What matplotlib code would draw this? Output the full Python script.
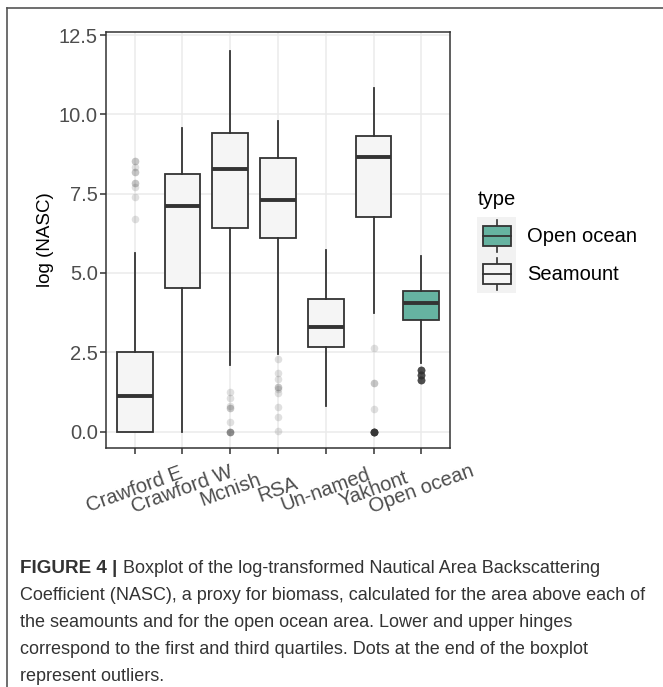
import matplotlib
matplotlib.use("Agg")
import matplotlib.pyplot as plt
from matplotlib.patches import Rectangle
from matplotlib.lines import Line2D

plt.rcParams['font.family'] = ['Liberation Sans', 'DejaVu Sans']

# log(NASC) summary per site
sites = ["Crawford E", "Crawford W", "Mcnish", "RSA", "Un-named", "Yakhont", "Open ocean"]
site_type = ["Seamount", "Seamount", "Seamount", "Seamount", "Seamount", "Seamount", "Open ocean"]
q1 = [0.00, 4.53, 6.43, 6.09, 2.68, 6.77, 3.51]
median = [1.11, 7.10, 8.29, 7.31, 3.29, 8.66, 4.04]
q3 = [2.50, 8.11, 9.43, 8.62, 4.18, 9.31, 4.42]
whisker_lo = [0.00, 0.00, 2.10, 2.45, 0.82, 3.73, 2.15]
whisker_hi = [5.62, 9.56, 12.01, 9.80, 5.74, 10.82, 5.53]
outliers = [
    [8.52, 8.52, 8.34, 8.20, 8.20, 7.85, 7.85, 7.70, 7.40, 6.70],
    [],
    [1.26, 1.05, 0.81, 0.74, 0.74, 0.31] + [0.00] * 5,
    [2.29, 1.84, 1.65, 1.39, 1.39, 1.33, 1.21, 0.76, 0.47, 0.02],
    [],
    [2.64, 1.52, 1.52, 0.70] + [0.00] * 20,
    [1.94] * 12 + [1.78] * 12 + [1.63] * 12,
]

fills = {"Open ocean": "#66b3a1", "Seamount": "#f5f5f5"}
line_col = "#333333"
fs = 14.5

fig = plt.figure(figsize=(6.63, 6.87), dpi=100)
ax = fig.add_axes([106 / 663, 1 - 448 / 687, (450 - 106) / 663, (448 - 32) / 687])

positions = list(range(1, len(sites) + 1))
stats = []
for i in range(len(sites)):
    stats.append(dict(med=median[i], q1=q1[i], q3=q3[i], whislo=whisker_lo[i],
                      whishi=whisker_hi[i], fliers=[]))

bp = ax.bxp(stats, positions=positions, widths=0.75, patch_artist=True,
            showcaps=False, showfliers=False,
            boxprops=dict(edgecolor=line_col, linewidth=1.3),
            whiskerprops=dict(color=line_col, linewidth=1.3),
            medianprops=dict(color=line_col, linewidth=2.8, solid_capstyle='butt'),
            zorder=3)
for patch, t in zip(bp['boxes'], site_type):
    patch.set_facecolor(fills[t])

# semi-transparent outliers, overlapping points darken
for pos, pts in zip(positions, outliers):
    if pts:
        ax.scatter([pos] * len(pts), pts, s=30, color=line_col, alpha=0.15,
                   linewidths=0, zorder=4)

ax.set_xlim(0.4, 7.6)
ax.set_ylim(-0.52, 12.6)
ax.set_yticks([0, 2.5, 5, 7.5, 10, 12.5])
ax.set_yticklabels(["0.0", "2.5", "5.0", "7.5", "10.0", "12.5"])
ax.set_xticks(positions)
ax.set_xticklabels(sites, rotation=20, ha='center', va='center',
                   rotation_mode='anchor')
ax.tick_params(axis='both', colors=line_col, length=4, width=1.1,
               labelsize=fs, labelcolor="#4d4d4d")
ax.tick_params(axis='x', pad=26)
ax.tick_params(axis='y', pad=2)
ax.grid(True, color="#ebebeb", linewidth=1.1, zorder=0)
ax.set_axisbelow(True)
for s in ax.spines.values():
    s.set_color(line_col)
    s.set_linewidth(1.1)
ax.set_ylabel("log (NASC)", fontsize=13.5, color="black", labelpad=3)

# legend drawn as small key panels
fig.text(478 / 663, 1 - 199 / 687, "type", fontsize=fs, va='center', ha='left')
for k, (lab, top) in enumerate([("Open ocean", 217), ("Seamount", 255)]):
    kax = fig.add_axes([477 / 663, 1 - (top + 38) / 687, 39 / 663, 38 / 687])
    kax.set_xlim(0, 1)
    kax.set_ylim(0, 1)
    kax.axis('off')
    kax.add_patch(Rectangle((0, 0), 1, 1, facecolor="#f2f2f2", edgecolor='none'))
    kax.plot([0.5, 0.5], [0.08, 0.92], color=line_col, linewidth=1.2)
    kax.add_patch(Rectangle((0.16, 0.24), 0.72, 0.52, facecolor=fills[lab],
                            edgecolor=line_col, linewidth=1.3, zorder=3))
    kax.plot([0.16, 0.88], [0.5, 0.5], color=line_col, linewidth=1.3, zorder=4)
    fig.text(527 / 663, 1 - (top + 20) / 687, lab, fontsize=fs, va='center', ha='left')

# frame of the figure panel
fig.add_artist(Line2D([7 / 663, 1], [1 - 8 / 687] * 2, color="#555555", linewidth=1.2))
fig.add_artist(Line2D([7 / 663] * 2, [0, 1 - 8 / 687], color="#555555", linewidth=1.2))

# caption
caption = [
    "Boxplot of the log-transformed Nautical Area Backscattering",
    "Coefficient (NASC), a proxy for biomass, calculated for the area above each of",
    "the seamounts and for the open ocean area. Lower and upper hinges",
    "correspond to the first and third quartiles. Dots at the end of the boxplot",
    "represent outliers.",
]
cap_kw = dict(color="#333333", va='baseline', ha='left')
x0 = 20 / 663
baselines = [573, 600, 627, 654, 681]
head = fig.text(x0, 1 - baselines[0] / 687, "FIGURE 4 |", fontweight='bold',
                fontsize=13.6, **cap_kw)
fig.canvas.draw()
bb = head.get_window_extent(fig.canvas.get_renderer())
fig.text(bb.x1 / 663 + 6 / 663, 1 - baselines[0] / 687, caption[0], fontsize=13.0, **cap_kw)
for line, yb in zip(caption[1:], baselines[1:]):
    fig.text(x0, 1 - yb / 687, line, fontsize=13.0, **cap_kw)

fig.savefig("out.png", dpi=100)
